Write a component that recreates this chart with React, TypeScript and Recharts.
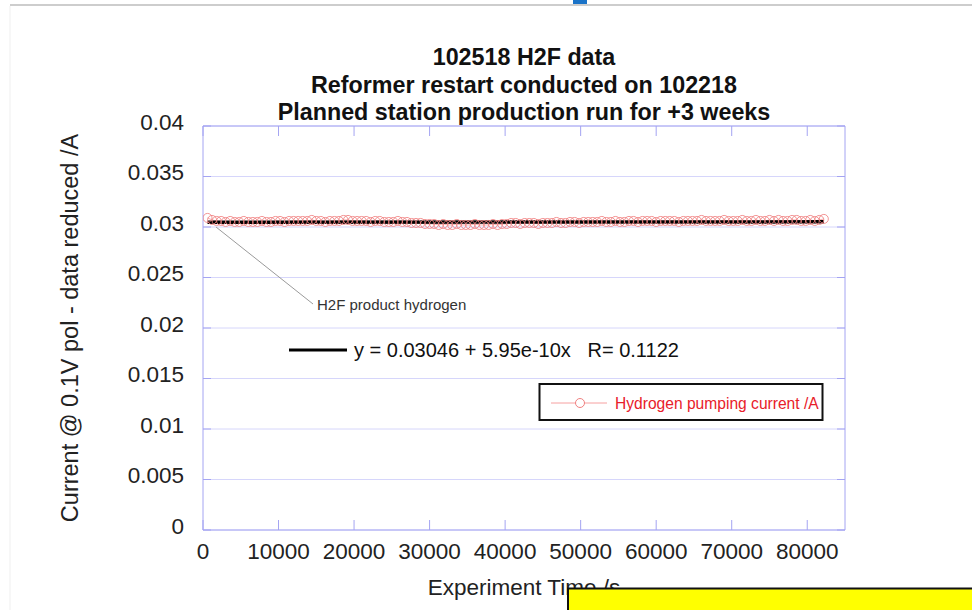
import React from "react";
import { ComposedChart, Line, XAxis, YAxis, CartesianGrid } from "recharts";

const times = [
  600, 1200, 1800, 2400, 3000, 3600, 4200, 4800, 5400, 6000, 6600,
  7200, 7800, 8400, 9000, 9600, 10200, 10800, 11400, 12000, 12600,
  13200, 13800, 14400, 15000, 15600, 16200, 16800, 17400, 18000, 18600, 19200, 19800, 20400,
  21000, 21600, 22200, 22800, 23400, 24000, 24600, 25200, 25800, 26400, 27000, 27600, 28200,
  28800, 29400, 30000, 30600, 31200, 31800, 32400, 33000, 33600, 34200, 34800, 35400, 36000, 36600,
  37200, 37800, 38400, 39000, 39600, 40200, 40800, 41400, 42000, 42600, 43200, 43800, 44400, 45000, 45600,
  46200, 46800, 47400, 48000, 48600, 49200, 49800, 50400, 51000, 51600, 52200, 52800, 53400, 54000, 54600,
  55200, 55800, 56400, 57000, 57600, 58200, 58800, 59400, 60000, 60600, 61200, 61800, 62400, 63000, 63600,
  64200, 64800, 65400, 66000, 66600, 67200, 67800, 68400, 69000, 69600, 70200, 70800, 71400, 72000, 72600,
  73200, 73800, 74400, 75000, 75600, 76200, 76800, 77400, 78000, 78600, 79200, 79800, 80400, 81000, 81600, 82200,
];

const currents = [
  0.0309, 0.0307, 0.0306, 0.0306, 0.0305, 0.0306, 0.0305, 0.0305, 0.0306, 0.0305, 0.0305,
  0.0305, 0.0306, 0.0305, 0.0305, 0.0306, 0.0306, 0.0305, 0.0306, 0.0306, 0.0306,
  0.0306, 0.0306, 0.0307, 0.0306, 0.0306, 0.0305, 0.0306, 0.0306, 0.0306, 0.0307, 0.0307, 0.0306, 0.0306,
  0.0306, 0.0306, 0.0305, 0.0306, 0.0306, 0.0305, 0.0305, 0.0305, 0.0306, 0.0305, 0.0305, 0.0304, 0.0304,
  0.0304, 0.0303, 0.0303, 0.0303, 0.0302, 0.0303, 0.0302, 0.0302, 0.0303, 0.0302, 0.0302, 0.0302, 0.0303, 0.0302,
  0.0302, 0.0302, 0.0303, 0.0302, 0.0303, 0.0303, 0.0304, 0.0304, 0.0303, 0.0304, 0.0304, 0.0304, 0.0303, 0.0304, 0.0304,
  0.0304, 0.0305, 0.0304, 0.0304, 0.0305, 0.0305, 0.0304, 0.0305, 0.0305, 0.0305, 0.0305, 0.0306, 0.0305, 0.0305, 0.0306,
  0.0305, 0.0305, 0.0306, 0.0306, 0.0305, 0.0306, 0.0306, 0.0306, 0.0305, 0.0306, 0.0306, 0.0306, 0.0306, 0.0305, 0.0306,
  0.0306, 0.0306, 0.0306, 0.0307, 0.0306, 0.0306, 0.0306, 0.0306, 0.0307, 0.0306, 0.0306, 0.0306, 0.0307, 0.0306, 0.0306,
  0.0307, 0.0306, 0.0306, 0.0307, 0.0306, 0.0307, 0.0306, 0.0306, 0.0307, 0.0307, 0.0306, 0.0306, 0.0307, 0.0306, 0.0307, 0.0308,
];

const fitTimes = [600, 82200];
const fitValues = [0.0304604, 0.0305089];

const xTicks = [0, 10000, 20000, 30000, 40000, 50000, 60000, 70000, 80000];
const yTicks = [0, 0.005, 0.01, 0.015, 0.02, 0.025, 0.03, 0.035, 0.04];

const titleLines = [
  "102518 H2F data",
  "Reformer restart conducted on 102218",
  "Planned station production run for +3 weeks",
];

const pumpData = times.map((t, i) => ({ t, current: currents[i] }));
const fitData = fitTimes.map((t, i) => ({ t, fit: fitValues[i] }));

const FRAME = "#a4a4f2";
const GRID = "#d6d6fb";
const FONT = "Arial, 'Liberation Sans', sans-serif";
const PINK = "#f08080";

const BottomTick = (props: any) => {
  const { x, y, payload } = props;
  return (
    <g>
      <line x1={x} y1={y} x2={x} y2={y - 10} stroke={FRAME} strokeWidth={1} />
      <text x={x} y={y + 29} textAnchor="middle" fontSize={22.5} fill="#222" fontFamily={FONT}>
        {payload.value}
      </text>
    </g>
  );
};

const TopTick = (props: any) => {
  const { x, y } = props;
  return <line x1={x} y1={y} x2={x} y2={y + 10} stroke={FRAME} strokeWidth={1} />;
};

const LeftTick = (props: any) => {
  const { x, y, payload } = props;
  return (
    <g>
      <line x1={x} y1={y} x2={x + 8} y2={y} stroke={FRAME} strokeWidth={1} />
      <text x={x - 19} y={y + 3.5} textAnchor="end" fontSize={22.5} fill="#222" fontFamily={FONT}>
        {String(payload.value)}
      </text>
    </g>
  );
};

const RightTick = (props: any) => {
  const { x, y } = props;
  return <line x1={x} y1={y} x2={x - 8} y2={y} stroke={FRAME} strokeWidth={1} />;
};

export default function App() {
  return (
    <div style={{ position: "absolute", left: 0, top: 0, width: 972, height: 610, background: "#fff" }}>
      <ComposedChart
        width={972}
        height={610}
        margin={{ top: 96, right: 67, bottom: 50, left: 143 }}
      >
        <CartesianGrid horizontal vertical={false} stroke={GRID} strokeWidth={1} />
        <XAxis
          dataKey="t"
          type="number"
          domain={[0, 85000]}
          ticks={xTicks}
          height={30}
          tickSize={0}
          tickMargin={0}
          axisLine={{ stroke: FRAME }}
          tickLine={false}
          tick={<BottomTick />}
          allowDataOverflow
        />
        <XAxis
          xAxisId="top"
          orientation="top"
          dataKey="t"
          type="number"
          domain={[0, 85000]}
          ticks={xTicks}
          height={30}
          tickSize={0}
          tickMargin={0}
          axisLine={{ stroke: FRAME }}
          tickLine={false}
          tick={<TopTick />}
          allowDataOverflow
        />
        <YAxis
          type="number"
          domain={[0, 0.04]}
          ticks={yTicks}
          width={60}
          tickSize={0}
          tickMargin={0}
          axisLine={{ stroke: FRAME }}
          tickLine={false}
          tick={<LeftTick />}
          allowDataOverflow
        />
        <YAxis
          yAxisId="right"
          orientation="right"
          type="number"
          domain={[0, 0.04]}
          ticks={yTicks}
          width={60}
          tickSize={0}
          tickMargin={0}
          axisLine={{ stroke: FRAME }}
          tickLine={false}
          tick={<RightTick />}
          allowDataOverflow
        />
        <Line
          data={pumpData}
          dataKey="current"
          type="linear"
          stroke="#f6b0b0"
          strokeWidth={1}
          dot={{ r: 4.5, stroke: PINK, strokeWidth: 1, fill: "none", strokeOpacity: 0.85 }}
          isAnimationActive={false}
        />
        <Line
          data={fitData}
          dataKey="fit"
          type="linear"
          stroke="#000"
          strokeWidth={3.5}
          dot={false}
          isAnimationActive={false}
        />
      </ComposedChart>
      <svg
        width={972}
        height={610}
        style={{ position: "absolute", left: 0, top: 0, pointerEvents: "none" }}
        fontFamily={FONT}
      >
        <line x1={10} y1={5} x2={972} y2={5} stroke="#bdbdbd" strokeWidth={1.5} />
        <line x1={10} y1={6} x2={10} y2={610} stroke="#efefef" strokeWidth={1} />
        <rect x={573} y={0} width={14} height={4} fill="#1a73c8" />
        {titleLines.map((t, i) => (
          <text
            key={i}
            x={524}
            y={65 + i * 27.5}
            textAnchor="middle"
            fontSize={23.3}
            fontWeight="bold"
            fill="#111"
          >
            {t}
          </text>
        ))}
        <text
          x={70}
          y={328}
          transform="rotate(-90 70 328)"
          textAnchor="middle"
          dominantBaseline="central"
          fontSize={23.5}
          fill="#222"
        >
          Current @ 0.1V pol - data reduced /A
        </text>
        <text x={524} y={595} textAnchor="middle" fontSize={22.5} fill="#222">
          Experiment Time /s
        </text>
        <line x1={216} y1={227} x2={313} y2={304} stroke="#9a9a9a" strokeWidth={1} />
        <text x={317} y={310} fontSize={15} fill="#333">
          H2F product hydrogen
        </text>
        <line x1={289} y1={350} x2={347} y2={350} stroke="#000" strokeWidth={3} />
        <text x={354} y={357} fontSize={20} fill="#111" style={{ whiteSpace: "pre" }}>
          {"y = 0.03046 + 5.95e-10x   R= 0.1122"}
        </text>
        <rect x={539.5} y={384} width={283} height={36} fill="#fff" stroke="#111" strokeWidth={2} />
        <line x1={551} y1={403} x2={607} y2={403} stroke="#f6a0a0" strokeWidth={1} />
        <circle cx={580} cy={403} r={4.5} fill="#fff" stroke={PINK} strokeWidth={1} />
        <text x={615} y={409} fontSize={15.6} fill="#e8202a">
          Hydrogen pumping current /A
        </text>
        <rect x={568} y={588.5} width={410} height={30} fill="#ffff00" stroke="#111" strokeWidth={2} />
      </svg>
    </div>
  );
}
